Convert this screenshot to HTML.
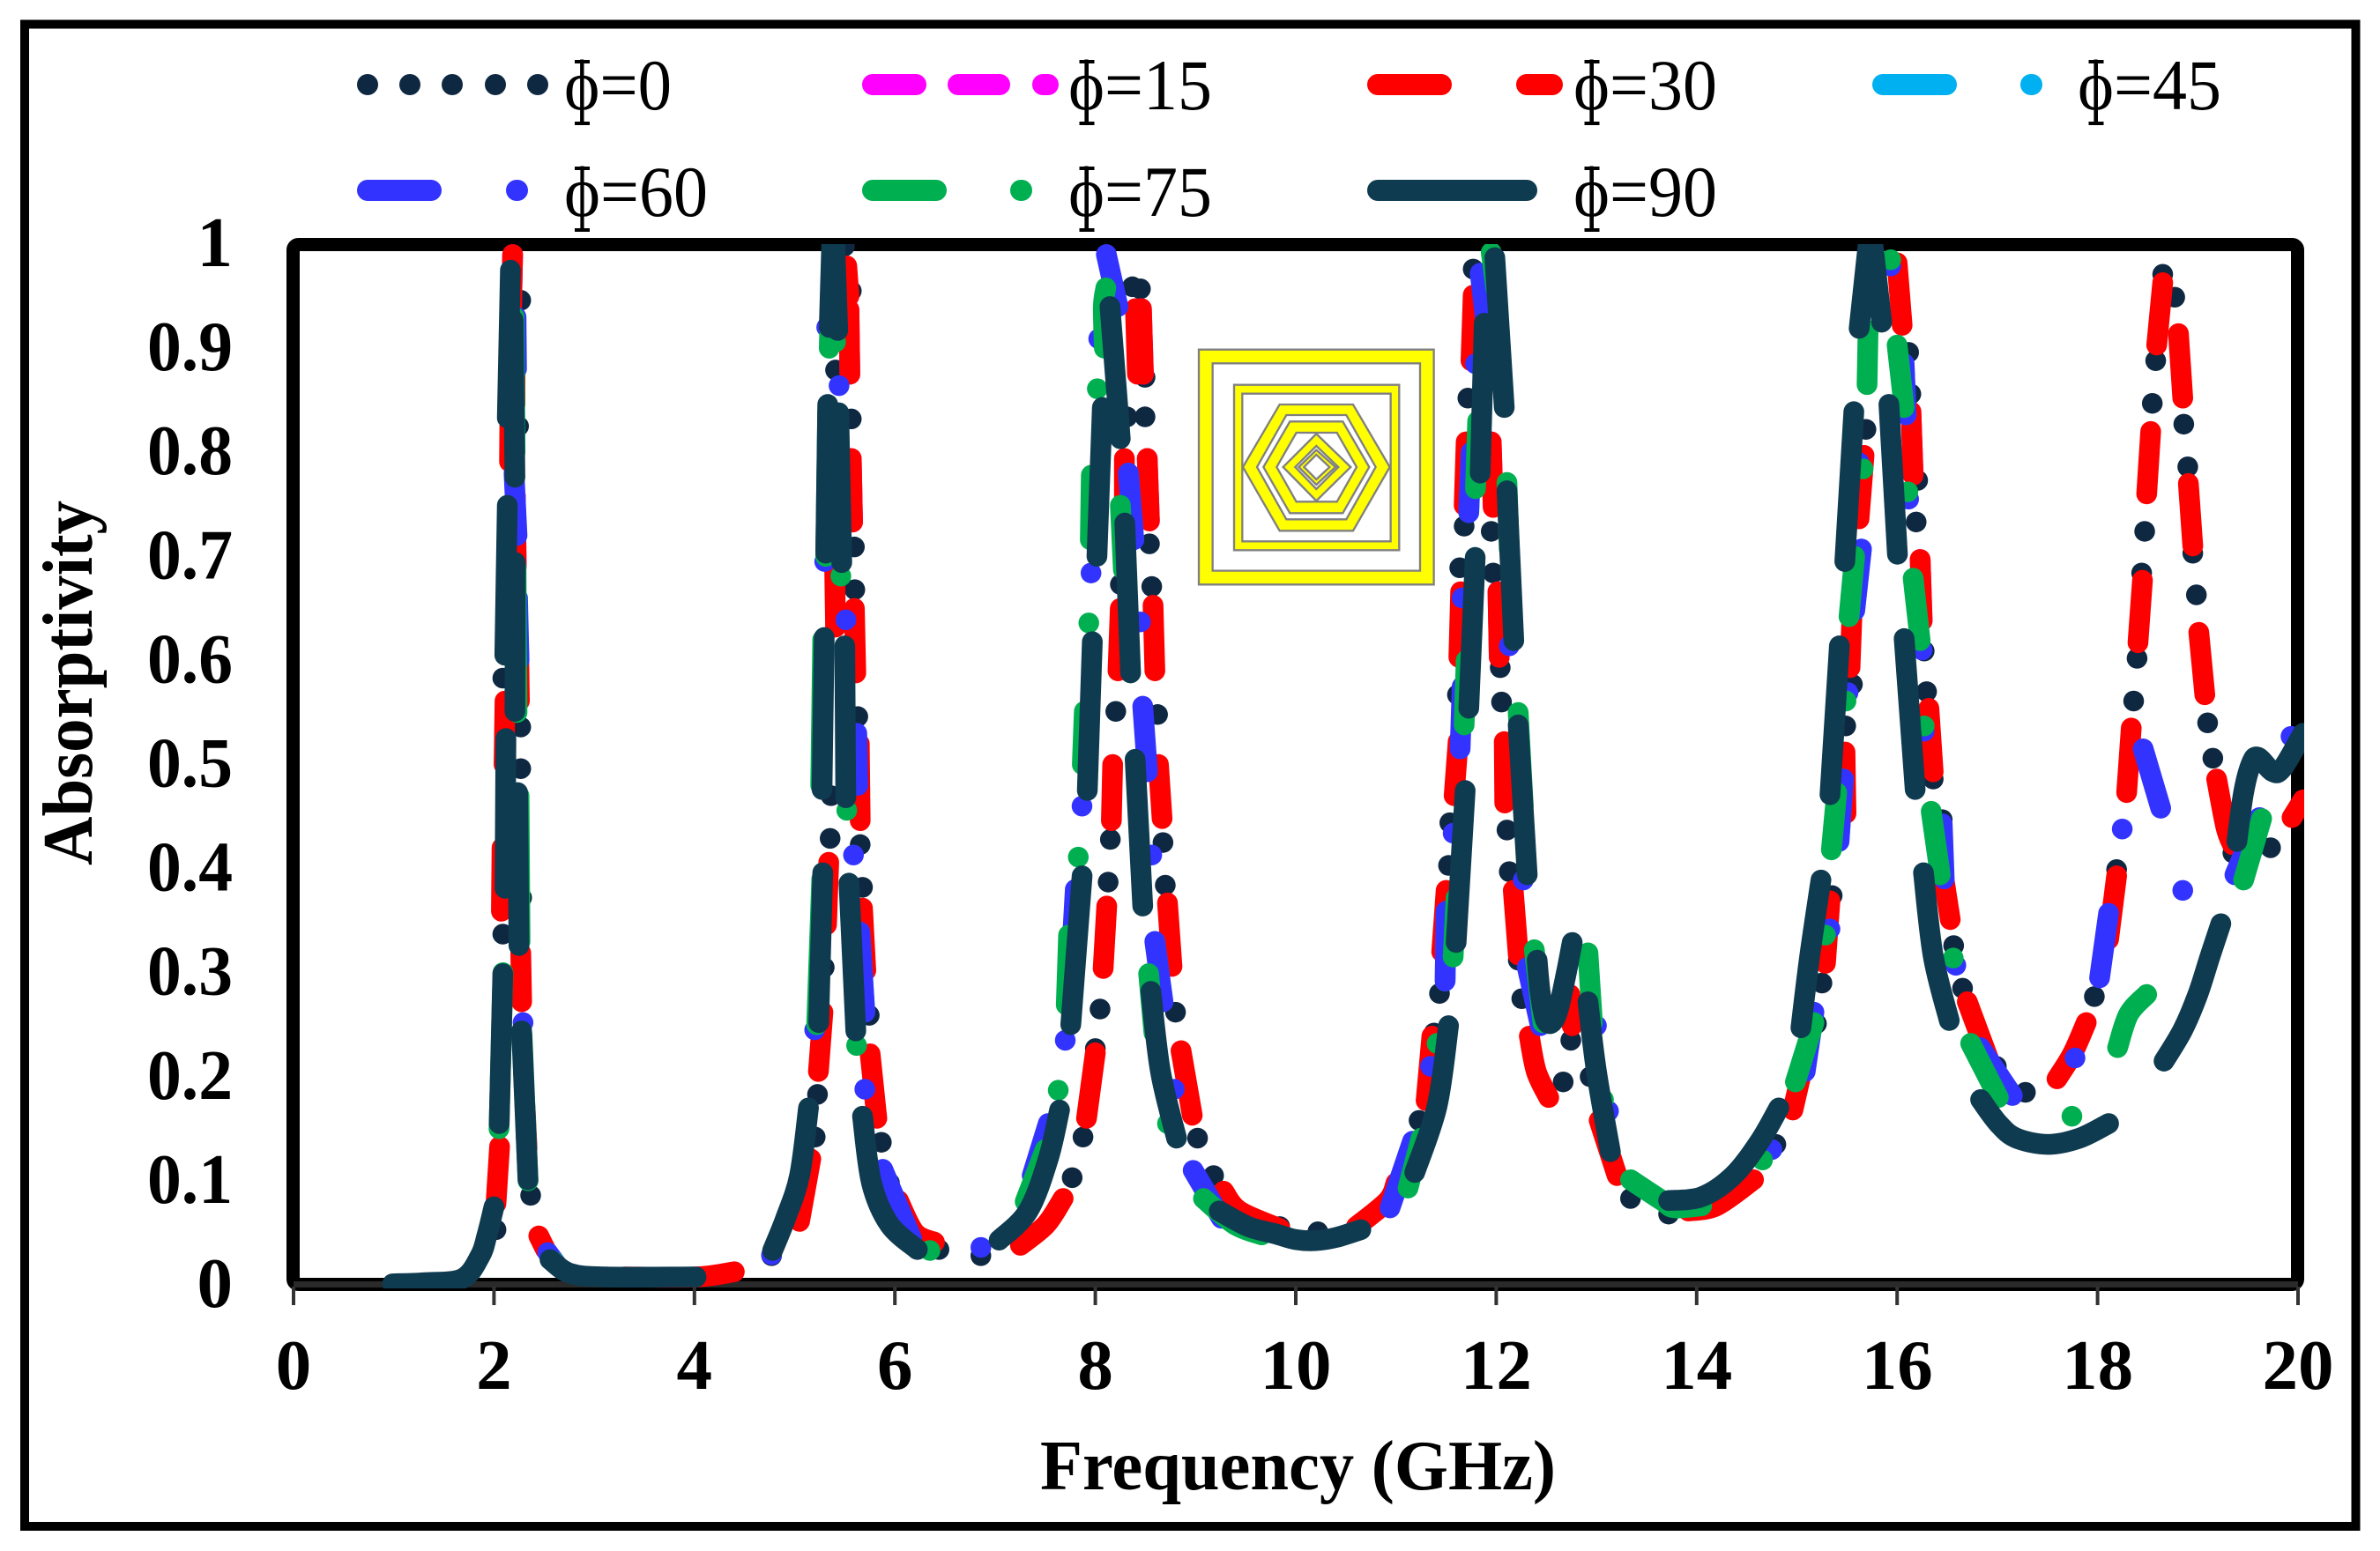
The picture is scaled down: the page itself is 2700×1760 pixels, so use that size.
<!DOCTYPE html>
<html lang="en">
<head>
<meta charset="utf-8">
<title>Absorptivity vs Frequency</title>
<style>
html,body{margin:0;padding:0;background:#fff}
svg{display:block}
text{font-family:"Liberation Serif",serif;fill:#000}
.tick{font-weight:bold;font-size:81px}
.axis-title{font-weight:bold;font-size:80px}
.legend{font-size:82px}
.phi-stem{fill:none;stroke:#000;stroke-width:4;stroke-linecap:butt}
</style>
</head>
<body>
<svg id="chart" xmlns="http://www.w3.org/2000/svg" width="2700" height="1760" viewBox="0 0 2700 1760">
  <defs><clipPath id="plot-clip"><rect x="325" y="277" width="2289" height="1185"/></clipPath></defs>
  <rect x="28" y="27.5" width="2644.5" height="1704.5" fill="#fff" stroke="#000" stroke-width="10"/>
  <rect x="332.5" y="277.5" width="2274" height="1180" rx="6" fill="none" stroke="#000" stroke-width="15"/>
  <rect x="333" y="1454" width="2274" height="7" fill="#2a2a2a"/>
  <g id="ticks"></g>
  <g id="series" clip-path="url(#plot-clip)"></g>

  <g transform="translate(1340 380) scale(0.3333)" stroke="#808080" stroke-width="7" fill="#ffff00" fill-rule="evenodd">
    <path d="M60 50H860V850H60ZM107 97V803H813V97Z"/>
    <path d="M180 170H742V733H180ZM208 200V703H713V200Z"/>
    <path d="M210 450L335 237H585L710 450L585 667H335ZM258 450L358 628H562L662 450L562 273H358Z"/>
    <path d="M280 450L370 295H550L640 450L550 607H370ZM325 450L392 568H530L597 450L530 333H392Z"/>
    <path d="M347 450L460 337L577 450L460 565ZM388 450L460 525L535 450L460 378Z"/>
    <path d="M400 450L460 392L525 450L460 510ZM418 450L460 492L505 450L460 408Z"/>
  </g>

  <g>
    <g>
      <g fill="#0F2841"><circle cx="417" cy="96" r="12"/><circle cx="465" cy="96" r="12"/><circle cx="513" cy="96" r="12"/><circle cx="562" cy="96" r="12"/><circle cx="610" cy="96" r="12"/></g>
      <text class="legend" x="640" y="124" textLength="122" lengthAdjust="spacingAndGlyphs">ϕ=0</text>
      <path class="phi-stem" d="M652 70H669M660.5 70V140M652 140H669"/>
    </g>
    <g stroke="#FF00FF" stroke-width="24" stroke-linecap="round">
      <line x1="990" y1="96" x2="1039" y2="96"/><line x1="1087" y1="96" x2="1134" y2="96"/><line x1="1183" y1="96" x2="1189" y2="96"/>
      <text class="legend" x="1212" y="124" stroke="none" textLength="163" lengthAdjust="spacingAndGlyphs">ϕ=15</text>
      <path class="phi-stem" d="M1224.5 70H1241.5M1233 70V140M1224.5 140H1241.5"/>
    </g>
    <g stroke="#FF0000" stroke-width="24" stroke-linecap="round">
      <line x1="1563" y1="96" x2="1635" y2="96"/><line x1="1732" y1="96" x2="1761" y2="96"/>
      <text class="legend" x="1785" y="124" stroke="none" textLength="163" lengthAdjust="spacingAndGlyphs">ϕ=30</text>
      <path class="phi-stem" d="M1797.5 70H1814.5M1806 70V140M1797.5 140H1814.5"/>
    </g>
    <g stroke="#00B0F0" stroke-width="24" stroke-linecap="round">
      <line x1="2136" y1="96" x2="2208" y2="96"/><line x1="2304" y1="96" x2="2305" y2="96"/>
      <text class="legend" x="2357" y="124" stroke="none" textLength="163" lengthAdjust="spacingAndGlyphs">ϕ=45</text>
      <path class="phi-stem" d="M2369.5 70H2386.5M2378 70V140M2369.5 140H2386.5"/>
    </g>
    <g stroke="#3333FF" stroke-width="24" stroke-linecap="round">
      <line x1="417" y1="216" x2="489" y2="216"/><line x1="586" y1="216" x2="587" y2="216"/>
      <text class="legend" x="640" y="245" stroke="none" textLength="163" lengthAdjust="spacingAndGlyphs">ϕ=60</text>
      <path class="phi-stem" d="M652 191H669M660.5 191V261M652 261H669"/>
    </g>
    <g stroke="#00B050" stroke-width="24" stroke-linecap="round">
      <line x1="990" y1="216" x2="1062" y2="216"/><line x1="1158" y1="216" x2="1159" y2="216"/>
      <text class="legend" x="1212" y="245" stroke="none" textLength="163" lengthAdjust="spacingAndGlyphs">ϕ=75</text>
      <path class="phi-stem" d="M1224.5 191H1241.5M1233 191V261M1224.5 261H1241.5"/>
    </g>
    <g stroke="#0F3B50" stroke-width="24" stroke-linecap="round">
      <line x1="1563" y1="216" x2="1732" y2="216"/>
      <text class="legend" x="1785" y="245" stroke="none" textLength="163" lengthAdjust="spacingAndGlyphs">ϕ=90</text>
      <path class="phi-stem" d="M1797.5 191H1814.5M1806 191V261M1797.5 261H1814.5"/>
    </g>
  </g>

  <text class="axis-title" x="1180" y="1690" textLength="585" lengthAdjust="spacingAndGlyphs">Frequency (GHz)</text>
  <text class="axis-title" transform="translate(104 982) rotate(-90)" textLength="414" lengthAdjust="spacingAndGlyphs">Absorptivity</text>
</svg>

<script>
const xTickLabels = [0,2,4,6,8,10,12,14,16,18,20];
const yTickLabels = [0,0.1,0.2,0.3,0.4,0.5,0.6,0.7,0.8,0.9,1];

// Each series is a list of visible dash runs; each run is a list of [frequency GHz, absorptivity].
const phi0 = [
 [[2.267,.946]],[[2.245,.825]],[[2.088,.583]],[[2.267,.536]],[[2.267,.496]],[[2.276,.372]],[[2.088,.337]],[[2.366,.086]],[[2.02,.053]],
 [[5.497,.998]],[[5.565,.955]],[[5.408,.879]],[[5.565,.832]],[[5.596,.709]],[[5.6,.668]],[[5.63,.546]],[[5.363,.47]],[[5.354,.429]],[[5.654,.423]],[[5.677,.382]],[[5.295,.305]],[[5.744,.259]],[[5.228,.183]],[[5.205,.142]],[[5.865,.137]],[[5.946,.098]],[[6.44,.034]],[[4.77,.028]],
 [[8.37,.959]],[[8.45,.957]],[[8.496,.872]],[[8.496,.834]],[[8.316,.834]],[[8.54,.712]],[[8.25,.673]],[[8.563,.671]],[[8.204,.551]],[[8.621,.548]],[[8.15,.428]],[[8.675,.425]],[[8.128,.387]],[[8.698,.384]],[[8.047,.265]],[[8.8,.262]],[[8.0,.227]],[[7.877,.142]],[[9.02,.141]],[[7.769,.103]],[[9.18,.105]],[[6.858,.028]],[[9.84,.056]],[[10.22,.051]],
 [[11.77,.976]],[[11.717,.852]],[[11.68,.729]],[[11.95,.724]],[[11.636,.689]],[[11.97,.684]],[[12.04,.593]],[[11.613,.567]],[[12.053,.56]],[[11.537,.444]],[[12.107,.437]],[[11.524,.403]],[[12.13,.397]],[[11.434,.28]],[[12.255,.275]],[[11.38,.242]],[[11.23,.158]],[[12.744,.235]],[[12.22,.312]],[[12.668,.195]],[[11.12,.12]],[[12.937,.2]],[[13.34,.083]],[[13.72,.068]],
 [[16.115,.896]],[[16.137,.856]],[[15.689,.822]],[[16.205,.773]],[[16.19,.733]],[[15.577,.658]],[[16.27,.609]],[[15.554,.577]],[[16.294,.57]],[[15.487,.537]],[[16.36,.486]],[[15.352,.374]],[[16.45,.447]],[[15.25,.29]],[[16.564,.326]],[[16.653,.285]],[[15.195,.251]],[[14.79,.135]],[[14.52,.1]],[[16.99,.21]],[[17.28,.185]],
 [[17.968,.277]],[[18.19,.399]],[[18.65,.971]],[[18.77,.949]],[[18.58,.888]],[[18.546,.847]],[[18.86,.827]],[[18.9,.786]],[[18.47,.724]],[[18.95,.703]],[[18.986,.663]],[[18.44,.684]],[[18.394,.602]],[[18.36,.561]],[[19.098,.54]],[[19.15,.506]],[[19.726,.42]],[[19.35,.415]]
];

const phi15 = [
 [[2.186,.99],[2.173,.93]],[[2.213,.758],[2.222,.69]],
 [[5.542,.937],[5.551,.875]],[[5.565,.794],[5.578,.733]],
 [[8.46,.938],[8.48,.875]],[[8.518,.794],[8.54,.734]],
 [[11.95,.81],[11.97,.747]],[[12.017,.666],[12.03,.603]],
 [[16.138,.839],[16.16,.778]],[[16.23,.697],[16.25,.638]]
];

const phi30 = [
 [[2.186,.99],[2.173,.93]],[[2.21,.917],[2.21,.846]],[[2.16,.852],[2.155,.791]],[[2.213,.758],[2.222,.69]],[[2.245,.613],[2.254,.561]],[[2.11,.561],[2.10,.50]],[[2.08,.42],[2.074,.359]],[[2.267,.319],[2.276,.272]],[[2.056,.133],[2.02,.078]],[[2.31,.171],[2.33,.131]],
 [[2.447,.047],[2.514,.034]],[[3.3,.0076],[4.017,.0076],[4.398,.0126]],
 [[5.52,.979],[5.542,.95]],[[5.542,.937],[5.551,.875]],[[5.565,.794],[5.578,.733]],[[5.399,.69],[5.408,.632]],[[5.596,.65],[5.61,.588]],[[5.34,.406],[5.318,.346]],[[5.645,.52],[5.654,.446]],[[5.677,.362],[5.71,.302]],[[5.282,.262],[5.237,.205]],[[5.753,.222],[5.82,.16]],[[5.161,.121],[5.049,.061]],[[6.036,.081],[6.2,.05],[6.395,.041]],
 [[8.46,.938],[8.48,.875]],[[8.40,.938],[8.42,.875]],[[8.29,.794],[8.29,.72]],[[8.518,.794],[8.54,.734]],[[8.249,.65],[8.226,.59]],[[8.576,.653],[8.594,.59]],[[8.173,.5],[8.16,.446]],[[8.63,.5],[8.666,.448]],[[8.114,.364],[8.078,.304]],[[8.72,.367],[8.765,.306]],[[8.0,.223],[7.912,.16]],[[8.855,.225],[8.967,.163]],[[7.679,.083],[7.509,.058],[7.253,.038]],[[9.28,.09],[9.438,.071],[9.842,.054]],[[10.604,.056],[10.918,.081],[11.0,.098]],
 [[11.77,.951],[11.748,.888]],[[11.70,.81],[11.68,.749]],[[11.95,.81],[11.97,.747]],[[11.645,.666],[11.627,.603]],[[12.017,.666],[12.03,.603]],[[11.62,.522],[11.58,.47]],[[12.08,.522],[12.085,.463]],[[11.5,.379],[11.456,.32]],[[12.17,.379],[12.22,.317]],[[11.358,.239],[11.30,.177]],[[12.33,.239],[12.4,.205],[12.524,.18]],[[12.735,.279],[12.757,.249]],[[13.027,.158],[13.206,.105]],[[13.917,.071],[14.2,.076],[14.567,.101]],
 [[16.0,.982],[16.05,.922]],[[16.138,.839],[16.16,.778]],[[15.67,.797],[15.62,.736]],[[16.23,.697],[16.25,.638]],[[15.555,.658],[15.53,.593]],[[16.317,.554],[16.36,.493]],[[15.48,.512],[15.49,.453]],[[15.33,.369],[15.285,.309]],[[16.43,.413],[16.53,.351]],[[15.106,.229],[14.96,.168]],[[16.70,.272],[16.92,.215]],
 [[17.595,.198],[17.75,.222],[17.887,.252]],[[18.19,.393],[18.11,.332]],[[18.336,.535],[18.29,.473]],[[18.448,.677],[18.403,.617]],[[18.53,.82],[18.49,.76]],[[18.65,.963],[18.59,.903]],[[18.807,.914],[18.85,.852]],[[18.906,.77],[18.95,.71]],[[19.01,.627],[19.07,.567]],[[19.188,.486],[19.28,.44],[19.345,.423]],[[19.94,.449],[20.05,.466]]
];

const phi45 = [
 [[5.65,.339],[5.70,.262]],[[8.33,.78],[8.384,.716]],[[8.594,.33],[8.675,.272]],
 [[11.75,.8],[11.726,.742]],[[11.5,.359],[11.49,.292]],[[16.07,.885],[16.09,.836]],[[15.644,.707],[15.577,.648]],[[15.464,.486],[15.42,.426]]
];

const phi60 = [
 [[2.22,.93],[2.225,.88]],[[2.2,.78],[2.23,.72]],[[2.235,.66],[2.25,.6]],[[2.29,.252]],[[2.536,.031],[2.62,.02]],
 [[5.32,.92]],[[5.443,.864]],[[5.30,.695]],[[5.511,.639]],[[5.62,.53],[5.63,.48]],[[5.587,.413]],[[5.65,.339],[5.70,.262]],[[5.2,.245]],[[5.70,.188]],[[5.879,.111],[6.17,.044]],[[4.77,.029]],
 [[8.11,.99],[8.226,.94]],[[8.034,.909]],[[7.957,.684]],[[8.33,.78],[8.384,.716]],[[8.45,.637]],[[8.473,.556],[8.52,.493]],[[7.867,.46]],[[8.563,.413]],[[8.594,.33],[8.675,.272]],[[7.80,.38],[7.75,.295]],[[7.70,.235]],[[8.787,.188]],[[8.976,.11],[9.258,.064]],[[7.53,.155],[7.37,.105]],[[6.858,.036]],
 [[11.84,.972],[11.905,.917]],[[11.793,.885]],[[11.75,.8],[11.726,.742]],[[11.66,.66]],[[11.66,.575],[11.64,.515]],[[11.57,.434]],[[11.5,.359],[11.49,.292]],[[11.345,.21]],[[11.165,.138],[10.94,.074]],[[12.27,.389]],[[12.13,.614]],[[12.31,.305],[12.44,.249]],[[13.0,.249]],[[13.12,.167]],
 [[15.936,.979]],[[16.07,.885],[16.09,.836]],[[16.115,.755]],[[15.62,.79]],[[15.644,.707],[15.577,.648]],[[16.25,.61]],[[15.51,.569]],[[16.27,.532]],[[15.464,.486],[15.42,.426]],[[15.33,.342]],[[16.586,.307]],[[16.45,.443],[16.47,.39]],[[15.17,.262],[15.083,.205]],[[16.83,.228],[17.15,.182]],[[14.75,.13]],
 [[17.775,.218]],[[18.11,.357],[18.02,.295]],[[18.246,.438]],[[18.455,.515],[18.63,.458]],[[18.85,.379]],[[19.615,.449],[19.37,.394]],[[19.93,.527]]
];

const phi75 = [
 [[2.2,.93],[2.21,.8]],[[2.22,.69],[2.23,.55]],[[2.25,.47],[2.26,.33]],[[2.09,.3],[2.05,.15]],[[2.28,.24],[2.34,.1]],[[2.6,.022]],
 [[5.37,.99],[5.345,.9]],[[5.408,.906]],[[5.33,.84],[5.31,.7]],[[5.461,.681]],[[5.28,.62],[5.26,.48]],[[5.52,.456]],[[5.27,.39],[5.22,.25]],[[5.618,.23]],[[6.35,.033]],
 [[8.105,.958],[8.08,.94],[8.09,.9]],[[8.02,.861]],[[7.96,.778],[7.95,.716]],[[8.25,.749],[8.28,.687]],[[7.935,.636]],[[7.89,.551],[7.87,.5]],[[7.83,.411]],[[7.733,.336],[7.71,.269]],[[8.532,.299],[8.585,.242]],[[7.63,.187]],[[8.72,.155]],[[7.5,.13],[7.3,.08]],[[9.079,.083],[9.39,.058],[9.66,.048]],
 [[11.95,.992],[12.0,.956]],[[11.815,.83],[11.793,.765]],[[12.107,.771],[12.13,.707]],[[11.7,.6],[11.68,.538]],[[12.219,.55],[12.27,.46]],[[11.6,.372],[11.57,.315]],[[12.38,.322],[12.466,.252]],[[12.915,.319],[12.96,.252]],[[11.41,.232]],[[11.12,.093],[11.25,.141]],[[13.07,.178]],[[13.34,.101],[13.655,.081],[13.78,.074],[14.05,.076]],
 [[15.936,.985]],[[15.71,.917],[15.70,.865]],[[16.0,.903],[16.07,.843]],[[15.66,.784]],[[16.107,.762]],[[15.576,.70],[15.52,.642]],[[16.16,.679],[16.23,.619]],[[15.49,.561]],[[16.27,.537]],[[15.397,.473],[15.344,.418]],[[16.34,.455],[16.43,.394]],[[15.285,.336]],[[16.56,.314]],[[15.17,.252],[14.985,.195]],[[16.734,.232],[17.01,.18]],[[14.657,.12]],
 [[17.744,.162]],[[18.2,.228],[18.31,.26],[18.49,.279]],[[19.457,.389],[19.637,.448]]
];

const phi90 = [
 [[0.989,.001],[1.3,.002],[1.684,.006],[1.863,.028],[1.931,.048],[2.0,.075]],
 [[2.052,.155],[2.088,.299]],[[2.11,.381],[2.119,.525]],[[2.108,.605],[2.133,.749]],[[2.133,.833],[2.164,.975]],[[2.191,.927],[2.209,.776]],[[2.213,.694],[2.209,.551]],[[2.236,.473],[2.249,.326]],[[2.276,.244],[2.339,.101]],
 [[2.559,.0243],[2.76,.011],[3.12,.0076],[4.017,.0076]],
 [[4.78,.033],[4.91,.064],[5.049,.105],[5.138,.17]],[[5.24,.252],[5.28,.396]],[[5.273,.476],[5.295,.622]],[[5.31,.703],[5.33,.846]],[[5.345,.92],[5.37,1.0]],[[5.4,1.0],[5.43,.917]],[[5.44,.838],[5.47,.694]],[[5.5,.614],[5.51,.468]],[[5.542,.386],[5.61,.244]],
 [[5.677,.162],[5.767,.098],[5.946,.058],[6.224,.034]],
 [[7.04,.043],[7.33,.071],[7.53,.121],[7.643,.168]],[[7.755,.25],[7.868,.393]],[[7.92,.475],[7.97,.618]],[[8.016,.70],[8.07,.843]],[[8.146,.94],[8.249,.813]],[[8.294,.732],[8.352,.588]],[[8.397,.505],[8.473,.364]],[[8.554,.282],[8.65,.205],[8.81,.141]],
 [[9.236,.071],[9.527,.056],[9.797,.049],[10.0,.0435],[10.2,.0425],[10.4,.0455],[10.649,.053]],
 [[11.187,.108],[11.41,.172],[11.524,.249]],[[11.6,.329],[11.69,.475]],[[11.726,.554],[11.79,.699]],[[11.84,.78],[11.88,.924]],[[11.986,.987],[12.08,.843]],[[12.107,.763],[12.175,.619]],[[12.219,.538],[12.309,.394]],
 [[12.408,.312],[12.44,.28],[12.49,.255],[12.556,.252],[12.62,.265],[12.7,.3],[12.758,.329]],
 [[12.915,.272],[13.0,.205],[13.139,.128]],
 [[13.72,.081],[14.05,.0846],[14.365,.105],[14.63,.138],[14.82,.17]],
 [[15.04,.247],[15.128,.316],[15.24,.389]],[[15.33,.471],[15.424,.614]],[[15.478,.695],[15.568,.839]],[[15.621,.919],[15.734,1.02]],[[15.734,1.02],[15.846,.925]],[[15.918,.846],[16.003,.702]],[[16.07,.621],[16.18,.476]],[[16.263,.396],[16.36,.316],[16.52,.254]],
 [[16.833,.178],[17.01,.155],[17.19,.141],[17.506,.135],[17.82,.141],[18.11,.155]],
 [[18.663,.215],[18.85,.245],[19.0,.279],[19.12,.315],[19.23,.347]],
 [[19.39,.426],[19.457,.473],[19.53,.5],[19.6,.507],[19.75,.493],[19.85,.497],[20.05,.53]]
];

const seriesNames = ['phi-0','phi-15','phi-30','phi-45','phi-60','phi-75','phi-90'];
const seriesRuns = [phi0,phi15,phi30,phi45,phi60,phi75,phi90];
const seriesColors = ['#0F2841','#FF00FF','#FF0000','#00B0F0','#3333FF','#00B050','#0F3B50'];

const SVG_NS = 'http://www.w3.org/2000/svg';
const xScale = f => 333 + f * 113.7;
const yScale = a => 1458 - a * 1181;

function runToPath(run){
  const p = run.map(d => [xScale(d[0]), yScale(d[1])]);
  if (p.length === 1) return `M${p[0][0]} ${p[0][1]}L${p[0][0]} ${p[0][1]}`;
  let d = `M${p[0][0]} ${p[0][1]}`;
  for (let i = 0; i < p.length - 1; i++){
    const a = p[Math.max(i-1,0)], b = p[i], c = p[i+1], e = p[Math.min(i+2,p.length-1)];
    const c1 = [b[0]+(c[0]-a[0])/6, b[1]+(c[1]-a[1])/6];
    const c2 = [c[0]-(e[0]-b[0])/6, c[1]-(e[1]-b[1])/6];
    d += `C${c1[0]} ${c1[1]} ${c2[0]} ${c2[1]} ${c[0]} ${c[1]}`;
  }
  return d;
}

const seriesLayer = document.getElementById('series');
seriesRuns.forEach((runs, s) => {
  const g = document.createElementNS(SVG_NS, 'g');
  
  
  runs.forEach(run => {
    const el = document.createElementNS(SVG_NS, 'path');
    
    
    el.setAttribute('d', runToPath(run));
    el.setAttribute('fill', 'none');
    el.setAttribute('stroke', seriesColors[s]);
    el.setAttribute('stroke-width', '23.5');
    el.setAttribute('stroke-linecap', 'round');
    el.setAttribute('stroke-linejoin', 'round');
    g.appendChild(el);
  });
  seriesLayer.appendChild(g);
});

const tickLayer = document.getElementById('ticks');
xTickLabels.forEach(v => {
  const mark = document.createElementNS(SVG_NS, 'line');
  
  
  mark.setAttribute('x1', xScale(v));
  mark.setAttribute('x2', xScale(v));
  mark.setAttribute('y1', 1460);
  mark.setAttribute('y2', 1481);
  mark.setAttribute('stroke', '#333');
  mark.setAttribute('stroke-width', '4');
  tickLayer.appendChild(mark);
  const label = document.createElementNS(SVG_NS, 'text');
  
  
  label.setAttribute('class', 'tick');
  label.setAttribute('x', xScale(v));
  label.setAttribute('y', 1576);
  label.setAttribute('text-anchor', 'middle');
  label.textContent = String(v);
  tickLayer.appendChild(label);
});
yTickLabels.forEach(v => {
  const label = document.createElementNS(SVG_NS, 'text');
  
  
  label.setAttribute('class', 'tick');
  label.setAttribute('x', 264);
  label.setAttribute('y', yScale(v) + 25);
  label.setAttribute('text-anchor', 'end');
  if (String(v).length > 1) {
    label.setAttribute('textLength', '97');
    label.setAttribute('lengthAdjust', 'spacingAndGlyphs');
  }
  label.textContent = String(v);
  tickLayer.appendChild(label);
});
</script>
</body>
</html>
